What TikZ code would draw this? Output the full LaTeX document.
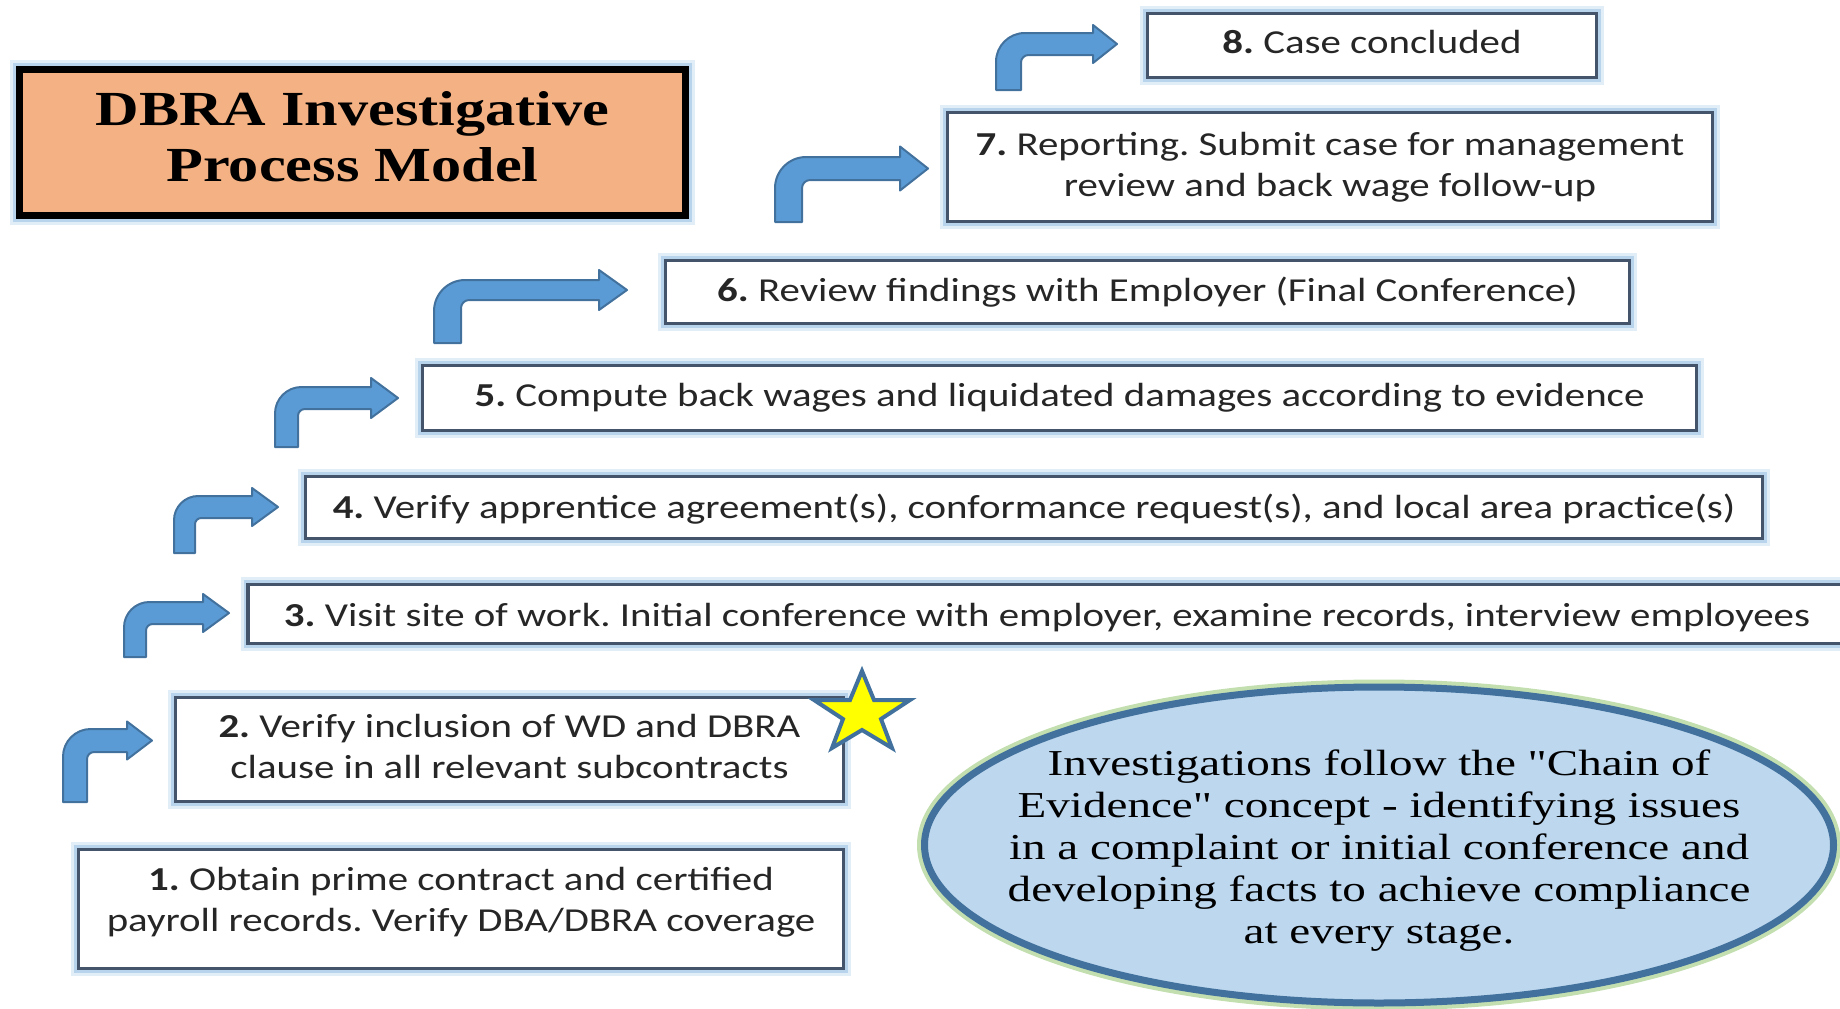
\documentclass[tikz,border=0pt]{standalone}
\usepackage{fontspec}
\usetikzlibrary{shapes.geometric}
\frenchspacing
\newfontfamily\boxfont{Carlito}[FakeStretch=1.22]
\newfontfamily\titlefont{Liberation Serif}[FakeStretch=1.23]
\newfontfamily\ellfont{Liberation Serif}[FakeStretch=1.29]
\definecolor{arrowfill}{HTML}{5B9BD5}
\definecolor{arrowline}{HTML}{41719C}
\definecolor{boxline}{HTML}{44546A}
\definecolor{glowblue}{HTML}{9DC3E6}
\definecolor{titlefill}{HTML}{F4B183}
\definecolor{ellfill}{HTML}{BDD7EE}
\definecolor{ellline}{HTML}{41719C}
\definecolor{ellglow}{HTML}{A9D18E}
\definecolor{txt}{HTML}{262626}
\definecolor{staryellow}{HTML}{FFFF00}
\newcommand\bentarr[8]{% xL, w, yB, yT, t, xH, xT, hh
  \pgfmathsetmacro\baXR{#1+#2}%
  \pgfmathsetmacro\baYS{#4+#5}%
  \pgfmathsetmacro\baYM{#4+#5/2}%
  \pgfmathsetmacro\baRo{1.15*#2}%
  \pgfmathsetmacro\baRi{0.3*#2}%
  \draw[bentarrow] (#1,#3) -- (#1,#4+\baRo)
    .. controls (#1,#4+0.45*\baRo) and (#1+0.45*\baRo,#4) .. (#1+\baRo,#4)
    -- (#6,#4) -- (#6,\baYM-#8) -- (#7,\baYM) -- (#6,\baYM+#8) -- (#6,\baYS)
    -- (\baXR+\baRi,\baYS)
    .. controls (\baXR+0.45*\baRi,\baYS) and (\baXR,\baYS+0.45*\baRi) .. (\baXR,\baYS+\baRi)
    -- (\baXR,#3) -- cycle;}
\begin{document}
\begin{tikzpicture}[x=1pt,y=-1pt,
  stepbox/.style={draw=boxline, line width=3.5pt, fill=white,
    preaction={draw=glowblue, line width=15pt, opacity=0.3},
    preaction={draw=glowblue, line width=9pt, opacity=0.6},
    inner sep=0pt, font=\boxfont\fontsize{33.5}{41}\selectfont, text=txt, align=center},
  steptext/.style={inner sep=0pt, font=\boxfont\fontsize{33.5}{41}\selectfont, text=txt, align=center},
  titlebox/.style={draw=black, line width=7pt, fill=titlefill,
    preaction={draw=glowblue, line width=19pt, opacity=0.3},
    preaction={draw=glowblue, line width=13pt, opacity=0.6},
    inner sep=0pt},
  titletext/.style={inner sep=0pt, font=\titlefont\bfseries\fontsize{49}{56}\selectfont, align=center},
  bentarrow/.style={fill=arrowfill, draw=arrowline, line width=2pt, line join=round},
  ellbox/.style={ellipse, draw=ellline, line width=7pt, fill=ellfill,
    preaction={draw=ellglow, line width=15pt, opacity=0.7}, inner sep=0pt},
  elltext/.style={inner sep=0pt, font=\ellfont\fontsize{36.5}{42}\selectfont, align=center},
  starshape/.style={fill=staryellow, draw=arrowline, line width=4pt, line join=miter}
]
\useasboundingbox (0,0) rectangle (1840,1009);
\clip (0,0) rectangle (1840,1009);

% title
\node[titlebox, minimum width=666, minimum height=146] (title) at (352.5,142.5) {};
\node[titletext] (ttext) at ([yshift=6pt]title.center) {DBRA Investigative\\Process Model};

% step boxes
\node[stepbox, minimum width=449, minimum height=64] (b8) at (1372,45.5) {};
\node[steptext] (t8) at ([yshift=4pt]b8.center) {\textbf{8.} Case concluded};
\node[stepbox, minimum width=765, minimum height=109] (b7) at (1330,167)
  {\textbf{7.} Reporting. Submit case for management\\review and back wage follow-up};
\node[stepbox, minimum width=964, minimum height=63] (b6) at (1147.5,292)
  {\textbf{6.} Review findings with Employer (Final Conference)};
\node[stepbox, minimum width=1274, minimum height=65] (b5) at (1059.5,398)
  {\textbf{5.} Compute back wages and liquidated damages according to evidence};
\node[stepbox, minimum width=1457, minimum height=62] (b4) at (1034,507.5) {};
\node[steptext] (t4) at ([yshift=-2pt]b4.center)
  {\textbf{4.} Verify apprentice agreement(s), conformance request(s), and local area practice(s)};
\node[stepbox, minimum width=1598, minimum height=59] (b3) at (1047,614) {};
\node[steptext] (t3) at ([yshift=-4pt]b3.center)
  {\textbf{3.} Visit site of work. Initial conference with employer, examine records, interview employees};
\node[stepbox, minimum width=668, minimum height=104] (b2) at (509.5,749.5) {};
\node[steptext] (t2) at ([yshift=3pt]b2.center)
  {\textbf{2.} Verify inclusion of WD and DBRA\\clause in all relevant subcontracts};
\node[stepbox, minimum width=765, minimum height=119] (b1) at (461,909) {};
\node[steptext] (t1) at ([yshift=7pt]b1.center)
  {\textbf{1.} Obtain prime contract and certified\\payroll records. Verify DBA/DBRA coverage};

% bent arrows: xL, w, yB, yT, t, xH, xT, hh
\bentarr{63}{24}{802}{729}{23}{127}{152}{19}
\bentarr{124}{22}{657}{602}{22}{203}{229}{19}
\bentarr{174}{21}{553}{496}{22}{252}{278}{19}
\bentarr{275}{23}{447}{387}{22}{371}{398}{20}
\bentarr{434}{27}{343}{280}{20}{599}{627}{20}
\bentarr{775}{27}{222}{157}{23}{900}{928}{22}
\bentarr{996}{25}{90}{33}{22}{1093}{1117}{19}

% star
\draw[starshape] (862,671) -- (874,700) -- (910,700) -- (881,719) -- (892,748)
  -- (862,730) -- (832,748) -- (843,719) -- (814,700) -- (850,700) -- cycle;

% ellipse
\node[ellbox, minimum width=909, minimum height=316] (ell) at (1379,845) {};
\node[elltext] (etext) at ([yshift=-6pt]ell.center)
  {Investigations follow the "Chain of\\Evidence" concept - identifying issues\\in a complaint or initial conference and\\developing facts to achieve compliance\\at every stage.};
\end{tikzpicture}
\end{document}
